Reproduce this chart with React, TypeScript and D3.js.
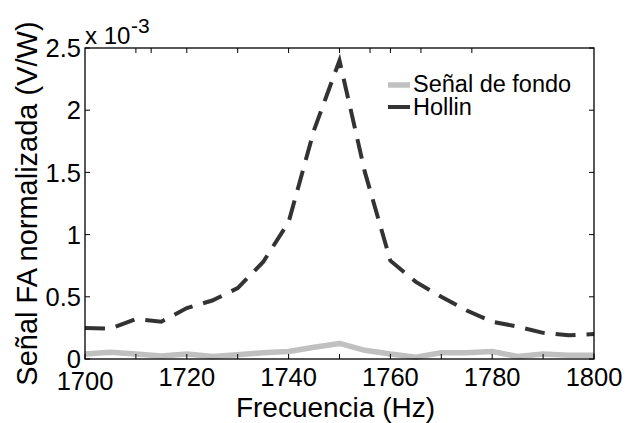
import React from "react";
import * as d3 from "d3";

// frequency axis (Hz), one point every 5 Hz
const freqs = [1700, 1705, 1710, 1715, 1720, 1725, 1730, 1735, 1740, 1745, 1750,
  1755, 1760, 1765, 1770, 1775, 1780, 1785, 1790, 1795, 1800];

// values in units of 1e-3 V/W
const fondo = [0.04, 0.055, 0.04, 0.025, 0.04, 0.02, 0.035, 0.05, 0.06, 0.095, 0.125,
  0.07, 0.04, 0.015, 0.05, 0.05, 0.06, 0.02, 0.04, 0.03, 0.03];
const hollin = [0.25, 0.245, 0.32, 0.3, 0.41, 0.47, 0.57, 0.78, 1.1, 1.84, 2.4,
  1.5, 0.79, 0.62, 0.5, 0.39, 0.3, 0.26, 0.21, 0.19, 0.2];

const xTickLabels = [1700, 1720, 1740, 1760, 1780, 1800];
const xMinorTicks = [1700, 1710, 1720, 1730, 1740, 1750, 1760, 1770, 1780, 1790, 1800];
const xTopTicks = [1710, 1713, 1720, 1730, 1740, 1750, 1756, 1760, 1766, 1776];
const yTicks = [0, 0.5, 1, 1.5, 2, 2.5];

const seriesNames = ["Señal de fondo", "Hollin"];

const W = 625, H = 423;
const margin = { top: 48, right: 31, bottom: 64, left: 85 };
const font = "'Liberation Sans', Arial, Helvetica, sans-serif";

export default function App() {
  const x = d3.scaleLinear().domain([1700, 1800]).range([margin.left, W - margin.right]);
  const y = d3.scaleLinear().domain([0, 2.5]).range([H - margin.bottom, margin.top]);

  const line = d3.line<number>()
    .x((d, i) => x(freqs[i]))
    .y(d => y(d));

  const x0 = x.range()[0], x1 = x.range()[1];
  const y0 = y.range()[0], y1 = y.range()[1];
  const tl = 5;

  return (
    <svg width={W} height={H} style={{ position: "absolute", left: 0, top: 0, display: "block" }}
      fontFamily={font}>
      <rect width={W} height={H} fill="#fff" />

      {/* data */}
      <path d={line(fondo) || ""} fill="none" stroke="#c0c0c0" strokeWidth={5.5}
        strokeLinejoin="round" />
      <path d={line(hollin) || ""} fill="none" stroke="#333333" strokeWidth={4}
        strokeDasharray="20 11" strokeLinejoin="miter" />

      {/* box */}
      <rect x={x0} y={y1} width={x1 - x0} height={y0 - y1} fill="none" stroke="#000" strokeWidth={1.3} />

      {/* x ticks */}
      {xMinorTicks.map(t => (
        <line key={"xb" + t} x1={x(t)} x2={x(t)} y1={y0} y2={y0 - tl} stroke="#000" />
      ))}
      {xTopTicks.map(t => (
        <line key={"xt" + t} x1={x(t)} x2={x(t)} y1={y1} y2={y1 + tl} stroke="#000" />
      ))}
      {xTickLabels.map((t, i) => (
        <text key={"xl" + t} x={x(t)} y={i === 0 ? 390 : 386} textAnchor="middle" fontSize={25.5}>
          {t}
        </text>
      ))}

      {/* y ticks */}
      {yTicks.map(t => (
        <g key={"y" + t}>
          <line x1={x0} x2={x0 + tl} y1={y(t)} y2={y(t)} stroke="#000" />
          <line x1={x1} x2={x1 - tl} y1={y(t)} y2={y(t)} stroke="#000" />
          <text x={x0 - 4} y={y(t)} dy="0.36em" textAnchor="end" fontSize={25.5}>{t}</text>
        </g>
      ))}

      {/* exponent */}
      <text x={x0} y={44} fontSize={24}>x 10</text>
      <text x={x0 + 46} y={33} fontSize={21}>-3</text>

      {/* axis labels */}
      <text x={(x0 + x1) / 2 - 4} y={417} textAnchor="middle" fontSize={28}>Frecuencia (Hz)</text>
      <text transform={`translate(37,${(y0 + y1) / 2}) rotate(-90)`} textAnchor="middle" fontSize={29}>
        Señal FA normalizada (V/W)
      </text>

      {/* legend */}
      <line x1={388} x2={410} y1={85} y2={85} stroke="#c0c0c0" strokeWidth={5.5} />
      <text x={413} y={92} fontSize={23.5}>{seriesNames[0]}</text>
      <line x1={388} x2={410} y1={107} y2={107} stroke="#333333" strokeWidth={4} />
      <text x={413} y={115} fontSize={23.5}>{seriesNames[1]}</text>
    </svg>
  );
}
